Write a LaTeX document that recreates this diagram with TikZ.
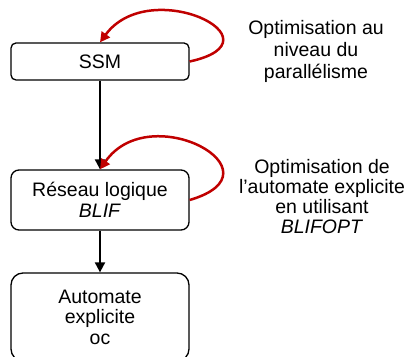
\documentclass[tikz,border=0pt]{standalone}
\usepackage{fontspec}
\setmainfont{Liberation Sans}
\usetikzlibrary{arrows.meta}
\definecolor{rougeboucle}{RGB}{192,0,0}
\newcommand{\FlecheTip}{Triangle[length=10,width=10]}
\tikzset{etape/.style={draw,line width=1.3pt,minimum width=178pt,align=center,inner sep=0pt,font=\fontsize{19.5}{20.5}\selectfont},
fleche/.style={line width=2pt,-{\FlecheTip}},
boucle/.style={rougeboucle,line width=2.5pt,-{\FlecheTip}},
commentaire/.style={align=center,font=\fontsize{19.5}{21}\selectfont}}
\begin{document}
\begin{tikzpicture}[x=1pt,y=1pt]
\useasboundingbox(0,0)rectangle(412,356);
\node[etape,rounded corners=5pt,minimum height=37pt](ssm)at(100,294.5){SSM};
\node[etape,rounded corners=8pt,minimum height=60pt](blif)at(100,156){R\'eseau logique\\\textit{BLIF}};
\node[etape,rounded corners=12pt,minimum height=88pt](oc)at(100,39){Automate\\explicite\\oc};
\node[commentaire,font=\fontsize{19.5}{22}\selectfont](optpar)at(316,305){Optimisation au\\niveau du\\parall\'elisme};
\node[commentaire,font=\fontsize{19.5}{20}\selectfont](optblif)at(322,159){Optimisation de\\l'automate explicite\\en utilisant\\\textit{BLIFOPT}};
\draw[fleche](ssm)--(blif);\draw[fleche](blif)--(oc);
\draw[boucle](ssm.east)..controls+(96,21)and+(50,68)..(ssm.north);
\draw[boucle](blif.east)..controls+(96,28)and+(50,72)..(blif.north);
\end{tikzpicture}
\end{document}
